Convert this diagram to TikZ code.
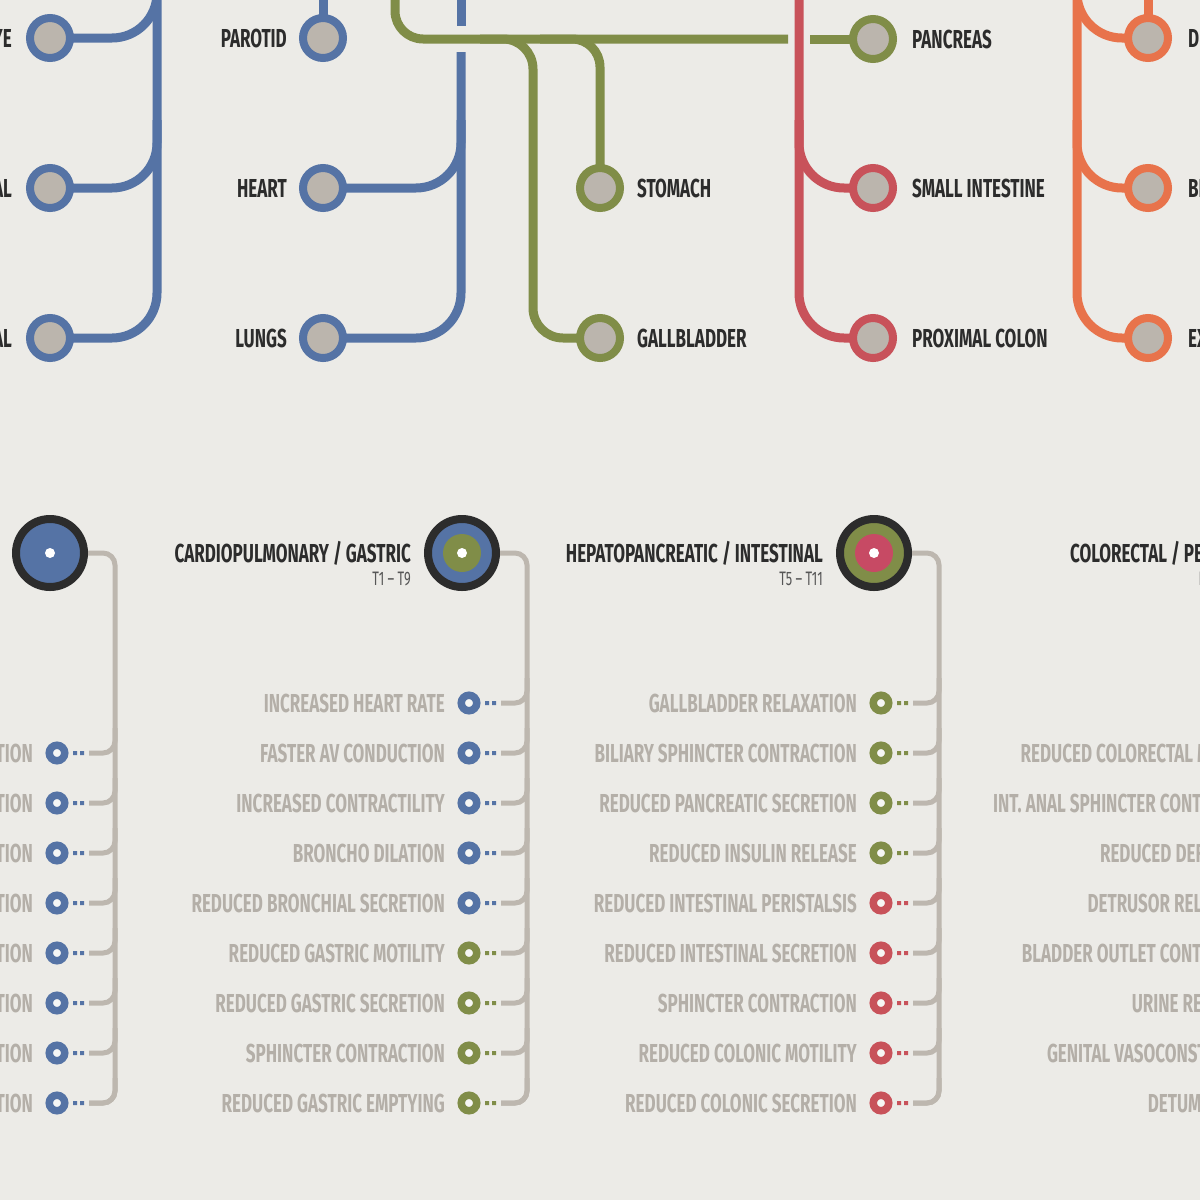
\documentclass[tikz,border=0pt]{standalone}
\usepackage{fontspec}
\newfontfamily\din[FakeStretch=0.655]{Fira Sans}
\definecolor{paper}{RGB}{236,235,231}
\definecolor{nblue}{RGB}{85,115,165}
\definecolor{ngreen}{RGB}{128,141,72}
\definecolor{nred}{RGB}{200,82,90}
\definecolor{norange}{RGB}{232,115,75}
\definecolor{npink}{RGB}{199,74,100}
\definecolor{stopfill}{RGB}{187,181,173}
\definecolor{ink}{RGB}{44,44,44}
\definecolor{fade}{RGB}{180,175,168}
\definecolor{railgrey}{RGB}{189,183,175}
\pgfdeclarelayer{paperlayer}
\pgfdeclarelayer{tracks}
\pgfsetlayers{paperlayer,tracks,main}
\tikzset{
  track/.style={draw=#1,line width=9pt},
  station/.style={circle,draw=#1,line width=8pt,fill=stopfill,minimum size=40pt,inner sep=0pt},
  organ/.style={font=\din\bfseries\fontsize{26}{26}\selectfont,text=ink,inner sep=0pt},
  hub/.style={circle,draw=ink,line width=8pt,fill=#1,minimum size=68pt,inner sep=0pt},
  core/.style={circle,fill=#1,minimum size=38pt,inner sep=0pt},
  pip/.style={circle,fill=white,minimum size=10pt,inner sep=0pt},
  hubtitle/.style={organ,anchor=base east},
  segment/.style={font=\din\fontsize{19.5}{19.5}\selectfont,text=ink!80,inner sep=0pt,anchor=base east},
  effect/.style={circle,draw=#1,line width=7.5pt,fill=white!55!paper,minimum size=15.5pt,inner sep=0pt},
  fx/.style={organ,text=fade,anchor=east},
  rail/.style={draw=railgrey,line width=5pt,rounded corners=12pt},
}
\begin{document}
\begin{tikzpicture}[x=1pt,y=-1pt]
    \useasboundingbox (0,0) rectangle (1200,1200);
    \begin{pgfonlayer}{paperlayer}
        \fill[paper] (0,0) rectangle (1200,1200);
    \end{pgfonlayer}
    \clip (0,0) rectangle (1200,1200);
    % stations
    \node[station=nblue] (eye) at (50,38) {};
    \node[station=nblue] (lacrimal) at (50,188) {};
    \node[station=nblue] (sublingual) at (50,338) {};
    \node[station=nblue] (parotid) at (323,38) {};
    \node[station=nblue] (heart) at (323,188) {};
    \node[station=nblue] (lungs) at (323,338) {};
    \node[station=ngreen] (stomach) at (600,188) {};
    \node[station=ngreen] (gallbladder) at (600,338) {};
    \node[station=ngreen] (pancreas) at (873,39) {};
    \node[station=nred] (smallint) at (873,188) {};
    \node[station=nred] (proxcolon) at (873,338) {};
    \node[station=norange] (distcolon) at (1148,38) {};
    \node[station=norange] (bladder) at (1148,188) {};
    \node[station=norange] (genitalia) at (1148,338) {};
    \node[organ,anchor=east] at (12,38) {EYE};
    \node[organ,anchor=east] at (12,188) {LACRIMAL};
    \node[organ,anchor=east] at (12,338) {SUBLINGUAL};
    \node[organ,anchor=east] at (287,38) {PAROTID};
    \node[organ,anchor=east] at (287,188) {HEART};
    \node[organ,anchor=east] at (287,338) {LUNGS};
    \node[organ,anchor=west] at (637,188) {STOMACH};
    \node[organ,anchor=west] at (637,338) {GALLBLADDER};
    \node[organ,anchor=west] at (912,39) {PANCREAS};
    \node[organ,anchor=west] at (912,188) {SMALL INTESTINE};
    \node[organ,anchor=west] at (912,338) {PROXIMAL COLON};
    \node[organ,anchor=west] at (1188,38) {DISTAL COLON};
    \node[organ,anchor=west] at (1188,188) {BLADDER};
    \node[organ,anchor=west] at (1188,338) {EXTERNAL GENITALIA};
    \begin{pgfonlayer}{tracks}
        \draw[track=nblue,rounded corners=45pt] (eye.center) -- (157,38) -- (157,-30);
        \draw[track=nblue,rounded corners=45pt] (lacrimal.center) -- (157,188) -- (157,120);
        \draw[track=nblue,rounded corners=45pt] (157,-30) -- (157,338) -- (sublingual.center);
        \draw[track=nblue] (parotid.center) -- (323,-30);
        \draw[track=nblue] (461,-30) -- (461,26);
        \draw[track=nblue,rounded corners=45pt] (461,52) -- (461,338) -- (lungs.center);
        \draw[track=nblue,rounded corners=45pt] (heart.center) -- (461,188) -- (461,120);
        \draw[track=ngreen,rounded corners=28pt] (395,-30) -- (395,39) -- (788,39);
        \draw[track=ngreen] (810,39) -- (pancreas.center);
        \draw[track=ngreen,rounded corners=28pt] (540,39) -- (600,39) -- (stomach.center);
        \draw[track=ngreen,rounded corners=30pt] (480,39) -- (533,39) -- (533,338) -- (gallbladder.center);
        \draw[track=nred,rounded corners=45pt] (799,-30) -- (799,338) -- (proxcolon.center);
        \draw[track=nred,rounded corners=45pt] (799,120) -- (799,188) -- (smallint.center);
        \draw[track=norange] (distcolon.center) -- (1148,-30);
        \draw[track=norange,rounded corners=45pt] (1077,-30) -- (1077,38) -- (distcolon.center);
        \draw[track=norange,rounded corners=45pt] (1077,120) -- (1077,188) -- (bladder.center);
        \draw[track=norange,rounded corners=45pt] (1077,-30) -- (1077,338) -- (genitalia.center);
    \end{pgfonlayer}
    % segments
    \node[hub=nblue] (cranial) at (50,553) {};
    \node[pip] at (cranial) {};
    \node[hub=nblue] (cardio) at (462,553) {};
    \node[core=ngreen] at (cardio) {};
    \node[pip] at (cardio) {};
    \node[hub=ngreen] (hepato) at (874,553) {};
    \node[core=npink] at (hepato) {};
    \node[pip] at (hepato) {};
    \node[hubtitle] at (411,562) {CARDIOPULMONARY / GASTRIC};
    \node[segment] at (411,585) {T1 – T9};
    \node[hubtitle] at (823,562) {HEPATOPANCREATIC / INTESTINAL};
    \node[segment] at (823,585) {T5 – T11};
    \node[hubtitle] at (1235,562) {COLORECTAL / PELVIC};
    \node[segment] at (1235,585) {L1 – L2};
    \def\rx{57}\def\bx{115}
    \foreach \y/\txt [count=\i] in {753/PUPIL DILATION,803/LID RETRACTION,853/REDUCED LACRIMATION,
        903/SALIVARY VASOCONSTRICTION,953/REDUCED SALIVATION,1003/THICK SALIVA SECRETION,
        1053/FACIAL VASOCONSTRICTION,1103/SWEAT SECRETION}{
        \node[effect=nblue] (cr\i) at (\rx,\y) {};
        \node[fx] at (\rx-24,\y) {\txt};
        \fill[nblue] (\rx+16,\y-2) rectangle ++(4,4) (\rx+23,\y-2) rectangle ++(4,4);
        \coordinate (cre\i) at (\rx+32,\y);
        \draw[rail] (cre\i) -- (\bx,\y) -- (\bx,\y-25);
    }
    \draw[rail] (cranial) -- (\bx,553) -- (\bx,1103) -- (cre8);
    \def\rx{469}\def\bx{527}
    \foreach \y/\txt/\col [count=\i] in {703/INCREASED HEART RATE/nblue,753/FASTER AV CONDUCTION/nblue,
        803/INCREASED CONTRACTILITY/nblue,853/BRONCHO DILATION/nblue,903/REDUCED BRONCHIAL SECRETION/nblue,
        953/REDUCED GASTRIC MOTILITY/ngreen,1003/REDUCED GASTRIC SECRETION/ngreen,
        1053/SPHINCTER CONTRACTION/ngreen,1103/REDUCED GASTRIC EMPTYING/ngreen}{
        \node[effect=\col] (cp\i) at (\rx,\y) {};
        \node[fx] at (\rx-24,\y) {\txt};
        \fill[\col] (\rx+16,\y-2) rectangle ++(4,4) (\rx+23,\y-2) rectangle ++(4,4);
        \coordinate (cpe\i) at (\rx+32,\y);
        \draw[rail] (cpe\i) -- (\bx,\y) -- (\bx,\y-25);
    }
    \draw[rail] (cardio) -- (\bx,553) -- (\bx,1103) -- (cpe9);
    \def\rx{881}\def\bx{939}
    \foreach \y/\txt/\col [count=\i] in {703/GALLBLADDER RELAXATION/ngreen,753/BILIARY SPHINCTER CONTRACTION/ngreen,
        803/REDUCED PANCREATIC SECRETION/ngreen,853/REDUCED INSULIN RELEASE/ngreen,
        903/REDUCED INTESTINAL PERISTALSIS/nred,953/REDUCED INTESTINAL SECRETION/nred,
        1003/SPHINCTER CONTRACTION/nred,1053/REDUCED COLONIC MOTILITY/nred,1103/REDUCED COLONIC SECRETION/nred}{
        \node[effect=\col] (hp\i) at (\rx,\y) {};
        \node[fx] at (\rx-24,\y) {\txt};
        \fill[\col] (\rx+16,\y-2) rectangle ++(4,4) (\rx+23,\y-2) rectangle ++(4,4);
        \coordinate (hpe\i) at (\rx+32,\y);
        \draw[rail] (hpe\i) -- (\bx,\y) -- (\bx,\y-25);
    }
    \draw[rail] (hepato) -- (\bx,553) -- (\bx,1103) -- (hpe9);
    \foreach \y/\txt in {753/REDUCED COLORECTAL MOTILITY,803/INT. ANAL SPHINCTER CONTRACTION,
        853/REDUCED DEFECATION,903/DETRUSOR RELAXATION,953/BLADDER OUTLET CONTRACTION,
        1003/URINE RETENTION,1053/GENITAL VASOCONSTRICTION,1103/DETUMESCENCE}
        \node[fx] at (1269,\y) {\txt};
\end{tikzpicture}
\end{document}
